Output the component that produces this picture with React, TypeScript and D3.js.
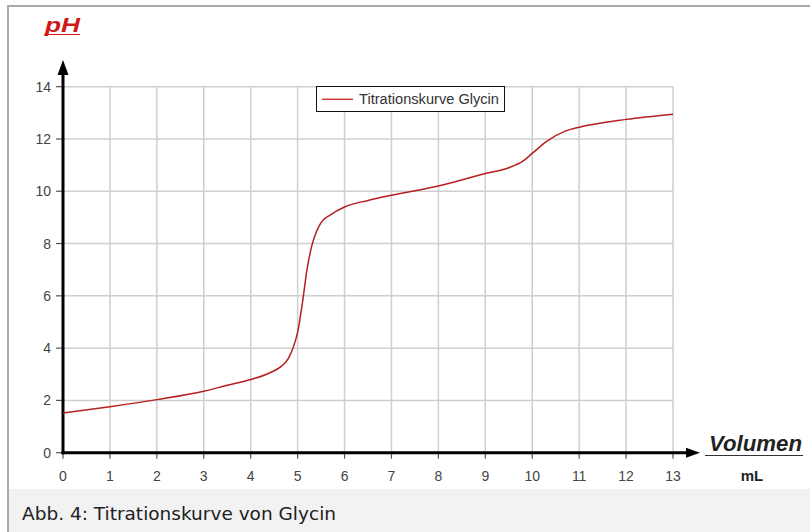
import React, { useEffect, useRef } from 'react';
import * as d3 from 'd3';

// Titration curve of glycine
const volume = [0, 1, 2, 3, 3.5, 4, 4.4, 4.65, 4.8, 4.9, 5.0, 5.1, 5.2, 5.3, 5.4, 5.5, 5.7, 6, 6.5, 7, 8, 9, 9.5, 9.8, 10, 10.3, 10.7, 11, 12, 13];
const pH = [1.52, 1.76, 2.03, 2.35, 2.58, 2.8, 3.05, 3.3, 3.6, 4.0, 4.6, 5.7, 7.0, 7.9, 8.45, 8.8, 9.1, 9.4, 9.65, 9.85, 10.2, 10.68, 10.9, 11.15, 11.45, 11.9, 12.3, 12.45, 12.75, 12.95];
const xTicks = [0, 1, 2, 3, 4, 5, 6, 7, 8, 9, 10, 11, 12, 13];
const yTicks = [0, 2, 4, 6, 8, 10, 12, 14];
const legendLabel = 'Titrationskurve Glycin';
const caption = 'Abb. 4: Titrationskurve von Glycin';

const W = 810;
const H = 532;
const font = 'Liberation Sans, Arial, sans-serif';

export default function App() {
  const svgRef = useRef<SVGSVGElement>(null);

  useEffect(() => {
    if (!svgRef.current) return;
    const svg = d3.select(svgRef.current);
    svg.selectAll('*').remove();

    const x = d3.scaleLinear().domain([0, 13]).range([63, 673]);
    const y = d3.scaleLinear().domain([0, 14]).range([452.7, 86.7]);

    // frame + caption strip
    svg.append('rect').attr('width', W).attr('height', H).attr('fill', '#fff');
    svg.append('rect').attr('x', 9).attr('y', 489).attr('width', W).attr('height', H).attr('fill', '#f2f2f2');
    svg.append('rect').attr('x', 8).attr('y', 6).attr('width', W + 10).attr('height', H + 10)
      .attr('fill', 'none').attr('stroke', '#a9a9a9').attr('stroke-width', 2);
    svg.append('text').attr('x', 22).attr('y', 520).attr('font-family', 'DejaVu Sans, sans-serif')
      .attr('font-size', 17.5).attr('fill', '#202122')
      .attr('textLength', 314).attr('lengthAdjust', 'spacingAndGlyphs').text(caption);

    // grid
    const grid = svg.append('g').attr('stroke', '#cfcfcf').attr('stroke-width', 1.5);
    grid.selectAll('line.v').data(xTicks.slice(1)).enter().append('line')
      .attr('x1', d => x(d)).attr('x2', d => x(d)).attr('y1', y(14)).attr('y2', y(0));
    grid.selectAll('line.h').data(yTicks.slice(1)).enter().append('line')
      .attr('x1', x(0)).attr('x2', x(13)).attr('y1', d => y(d)).attr('y2', d => y(d));

    // ticks and labels
    const tx = svg.append('g');
    tx.selectAll('line').data(xTicks).enter().append('line')
      .attr('x1', d => x(d)).attr('x2', d => x(d)).attr('y1', y(0)).attr('y2', y(0) + 6)
      .attr('stroke', '#555').attr('stroke-width', 1.2);
    tx.selectAll('text').data(xTicks).enter().append('text')
      .attr('x', d => x(d)).attr('y', 481).attr('text-anchor', 'middle')
      .attr('font-family', font).attr('font-size', 14).attr('fill', '#444').text(d => d);

    const ty = svg.append('g');
    ty.selectAll('line').data(yTicks).enter().append('line')
      .attr('x1', x(0) - 7).attr('x2', x(0)).attr('y1', d => y(d)).attr('y2', d => y(d))
      .attr('stroke', '#555').attr('stroke-width', 1.2);
    ty.selectAll('text').data(yTicks).enter().append('text')
      .attr('x', 51).attr('y', d => y(d) + 5).attr('text-anchor', 'end')
      .attr('font-family', font).attr('font-size', 14).attr('fill', '#444').text(d => d);

    // axes with arrows
    svg.append('line').attr('x1', x(0) - 1.5).attr('x2', 688).attr('y1', y(0)).attr('y2', y(0))
      .attr('stroke', '#000').attr('stroke-width', 3);
    svg.append('path').attr('d', `M686,${y(0) - 5}L700,${y(0)}L686,${y(0) + 5}Z`).attr('fill', '#000');
    svg.append('line').attr('x1', x(0)).attr('x2', x(0)).attr('y1', y(0) + 1.5).attr('y2', 72)
      .attr('stroke', '#000').attr('stroke-width', 3);
    svg.append('path').attr('d', `M${x(0) - 5.5},75L${x(0)},60L${x(0) + 5.5},75Z`).attr('fill', '#000');

    // curve
    const data = volume.map((v, i) => [v, pH[i]] as [number, number]);
    const line = d3.line<[number, number]>().x(d => x(d[0])).y(d => y(d[1])).curve(d3.curveMonotoneX);
    svg.append('path').datum(data).attr('d', line).attr('fill', 'none')
      .attr('stroke', '#b51f1f').attr('stroke-width', 1.5);

    // legend
    const lg = svg.append('g');
    lg.append('rect').attr('x', 316.5).attr('y', 86.5).attr('width', 188).attr('height', 25)
      .attr('fill', '#fff').attr('stroke', '#111').attr('stroke-width', 1);
    lg.append('line').attr('x1', 322).attr('x2', 353).attr('y1', 99.3).attr('y2', 99.3)
      .attr('stroke', '#d23a3a').attr('stroke-width', 1.5);
    lg.append('text').attr('x', 359).attr('y', 104).attr('font-family', font).attr('font-size', 14)
      .attr('textLength', 140).attr('lengthAdjust', 'spacingAndGlyphs')
      .attr('fill', '#333').text(legendLabel);

    // axis titles
    svg.append('text').attr('x', 45).attr('y', 32).attr('font-family', font).attr('font-size', 21)
      .attr('font-weight', 'bold').attr('font-style', 'italic').attr('fill', '#d01818')
      .attr('textLength', 35).attr('lengthAdjust', 'spacingAndGlyphs').text('pH');
    svg.append('line').attr('x1', 44).attr('x2', 80).attr('y1', 34.5).attr('y2', 34.5)
      .attr('stroke', '#d01818').attr('stroke-width', 1.2);

    svg.append('text').attr('x', 709).attr('y', 451).attr('font-family', font).attr('font-size', 22)
      .attr('font-weight', 'bold').attr('font-style', 'italic').attr('fill', '#222')
      .attr('textLength', 93).attr('lengthAdjust', 'spacingAndGlyphs').text('Volumen');
    svg.append('line').attr('x1', 705).attr('x2', 803).attr('y1', 455.5).attr('y2', 455.5)
      .attr('stroke', '#333').attr('stroke-width', 1.2);
    svg.append('text').attr('x', 752).attr('y', 481).attr('text-anchor', 'middle')
      .attr('font-family', font).attr('font-size', 15).attr('font-weight', 'bold').attr('fill', '#222')
      .text('mL');
  }, []);

  return (
    <svg ref={svgRef} width={W} height={H}
      style={{ position: 'fixed', left: 0, top: 0, display: 'block' }} />
  );
}
